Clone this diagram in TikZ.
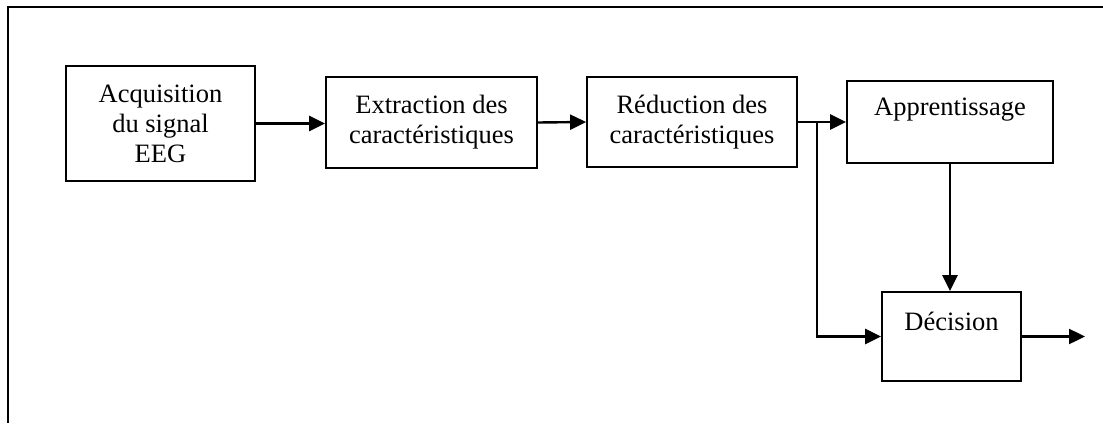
\documentclass[tikz,border=0pt]{standalone}
\usepackage{fontspec}
\setmainfont{Liberation Serif}
\usepackage{tikz}
\usetikzlibrary{arrows.meta}
\tikzset{
    blk/.style={shape=rectangle, draw, line width=1.8pt, align=center, inner sep=0pt,
        font=\fontsize{26.5}{30}\selectfont},
    wire/.style={line width=2.4pt, -{Triangle[length=16pt,width=15pt]}}
}
\begin{document}
\begin{tikzpicture}[x=1pt,y=-1pt]
    	% Paths, nodes and wires:
    	\useasboundingbox (0,0) rectangle (1103,423);
    	\draw[line width=2pt] (1103,7) -- (8,7) -- (8,423);
    	\node[blk, minimum width=189pt, minimum height=115pt](Acq) at (160.5, 123.5){Acquisition\\du signal\\EEG};
    	\node[blk, minimum width=211pt, minimum height=91pt](Ext) at (431.5, 122.5){Extraction des\\caractéristiques};
    	\node[blk, minimum width=210pt, minimum height=90pt](Red) at (692, 122){Réduction des\\caractéristiques};
    	\node[blk, minimum width=206pt, minimum height=82pt](App) at (950, 122){Apprentissage\\\mbox{}};
    	\node[blk, minimum width=139pt, minimum height=89pt](Dec) at (951.5, 336.5){Décision\\\mbox{}};
    	\coordinate (Br) at (817, 122);
    	\coordinate (Out) at (1085, 336.5);
    	\draw[wire] (Acq.east) -- (Acq.east -| Ext.west);
    	\draw[wire] (Ext.east) -- (Red.west);
    	\draw[wire] (Red.east) -- (App.west);
    	\draw[wire] (Br) |- (Dec.west);
    	\draw[wire] (App.south) -- (App.south |- Dec.north);
    	\draw[wire] (Dec.east) -- (Out);
    	\end{tikzpicture}
\end{document}
